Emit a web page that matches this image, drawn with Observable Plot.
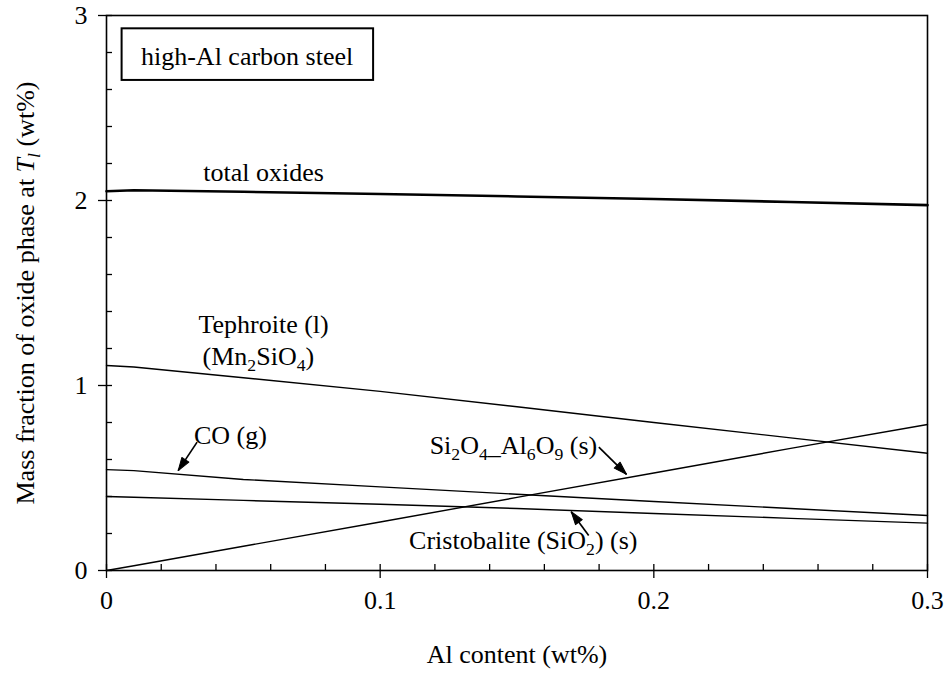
<!DOCTYPE html>
<html>
<head>
<meta charset="utf-8">
<script src="https://cdn.jsdelivr.net/npm/d3@7"></script>
<script src="https://cdn.jsdelivr.net/npm/@observablehq/plot@0.6"></script>
<style>
  html, body { margin: 0; padding: 0; background: #fff; }
  #chart { width: 944px; height: 676px; }
</style>
</head>
<body>
<div id="chart"></div>
<script>
// ---- data ----
const alContent = [0, 0.01, 0.05, 0.1, 0.15, 0.2, 0.25, 0.3];
const totalOxides = [2.050, 2.055, 2.047, 2.035, 2.022, 2.008, 1.992, 1.975];
const tephroite = [1.108, 1.100, 1.042, 0.968, 0.885, 0.800, 0.717, 0.634];
const coGas = [0.545, 0.540, 0.492, 0.452, 0.412, 0.373, 0.335, 0.297];
const cristobalite = [0.400, 0.396, 0.379, 0.358, 0.335, 0.308, 0.282, 0.256];
const mullite = [0.000, 0.026, 0.131, 0.262, 0.395, 0.527, 0.660, 0.789];

const xMajorTicks = [0, 0.1, 0.2, 0.3];
const xMinorTicks = [0.02, 0.04, 0.06, 0.08, 0.12, 0.14, 0.16, 0.18, 0.22, 0.24, 0.26, 0.28];
const yMajorTicks = [0, 1, 2, 3];
const yMinorTicks = [0.2, 0.4, 0.6, 0.8, 1.2, 1.4, 1.6, 1.8, 2.2, 2.4, 2.6, 2.8];
const xTickLabels = ["0", "0.1", "0.2", "0.3"];
const yTickLabels = ["0", "1", "2", "3"];

const xTitle = "Al content (wt%)";
const yTitle = "Mass fraction of oxide phase at [T{l}] (wt%)";

// annotations: label text and anchor (data coordinates)
const labels = [
  {text: "total oxides", x: 0.0574, y: 2.148},
  {text: "Tephroite (l)", x: 0.0574, y: 1.33},
  {text: "(Mn{2}SiO{4})", x: 0.0555, y: 1.155},
  {text: "CO (g)", x: 0.0453, y: 0.73},
  {text: "Si{2}O{4}_Al{6}O{9} (s)", x: 0.1487, y: 0.676},
  {text: "Cristobalite (SiO{2}) (s)", x: 0.1523, y: 0.162}
];
const arrows = [
  {x1: 0.0331, y1: 0.694, x2: 0.0262, y2: 0.540},
  {x1: 0.1799, y1: 0.667, x2: 0.1900, y2: 0.520},
  {x1: 0.1762, y1: 0.189, x2: 0.1698, y2: 0.318}
];
const boxLabel = "high-Al carbon steel";
const boxExtent = [{x1: 0.0057, x2: 0.0976, y1: 2.649, y2: 2.928}];
const boxTextPos = [{x: 0.0126, y: 2.778}];

// ---- build tables ----
const seriesDefs = [
  ["Tephroite", tephroite], ["CO", coGas], ["Cristobalite", cristobalite], ["Si2O4_Al6O9", mullite]
];
const thinRows = seriesDefs.flatMap(([name, vals]) => alContent.map((x, i) => ({series: name, x, y: vals[i]})));
const totalRows = alContent.map((x, i) => ({x, y: totalOxides[i]}));

// ---- geometry ----
const W = 944, H = 676;
const mL = 106, mR = 17, mT = 15, mB = 106;
const FS = 26;
const font = '"Liberation Serif", "Times New Roman", Times, serif';
const pxY = 3 / (H - mT - mB);          // data units per pixel (y)
const pxX = 0.3 / (W - mL - mR);        // data units per pixel (x)
const majOut = 8, majIn = 6, minIn = 6;

// arrow direction (degrees clockwise from up, in screen space)
const arrowAngle = d => {
  const dx = (d.x2 - d.x1) / pxX;
  const dyScreen = -(d.y2 - d.y1) / pxY;
  return Math.atan2(dx, -dyScreen) * 180 / Math.PI;
};
// filled arrowhead: tip at the end of the vector
const headShape = {
  draw(ctx, l) {
    ctx.moveTo(0, -l);
    ctx.lineTo(-4.2, 0);
    ctx.lineTo(4.2, 0);
    ctx.closePath();
  }
};

const chart = Plot.plot({
  width: W, height: H,
  marginLeft: mL, marginRight: mR, marginTop: mT, marginBottom: mB,
  style: {fontFamily: font, fontSize: FS + "px", background: "#fff", color: "#000", overflow: "visible"},
  x: {domain: [0, 0.3], axis: null},
  y: {domain: [0, 3], axis: null},
  marks: [
    // data lines
    Plot.line(thinRows, {x: "x", y: "y", z: "series", stroke: "#000", strokeWidth: 1.4}),
    Plot.line(totalRows, {x: "x", y: "y", stroke: "#000", strokeWidth: 2.6}),
    // frame
    Plot.frame({stroke: "#000", strokeWidth: 1.6}),
    // x ticks
    Plot.ruleX(xMajorTicks, {x: d => d, y1: -majOut * pxY, y2: majIn * pxY, stroke: "#000", strokeWidth: 1.3}),
    Plot.ruleX(xMinorTicks, {x: d => d, y1: 0, y2: minIn * pxY, stroke: "#000", strokeWidth: 1.3}),
    // y ticks
    Plot.ruleY(yMajorTicks, {y: d => d, x1: -majOut * pxX, x2: majIn * pxX, stroke: "#000", strokeWidth: 1.3}),
    Plot.ruleY(yMinorTicks, {y: d => d, x1: 0, x2: minIn * pxX, stroke: "#000", strokeWidth: 1.3}),
    // tick labels
    Plot.text(xMajorTicks, {x: d => d, frameAnchor: "bottom", dy: 38, text: (d, i) => xTickLabels[i], fontSize: FS, fill: "#000"}),
    Plot.text(yMajorTicks, {y: d => d, frameAnchor: "left", dx: -19, textAnchor: "end", text: (d, i) => yTickLabels[i], fontSize: FS, fill: "#000"}),
    // axis titles
    Plot.text([xTitle], {frameAnchor: "bottom", dy: 92, text: d => d, textAnchor: "middle", fontSize: FS, fill: "#000"}),
    Plot.text([yTitle], {frameAnchor: "left", dx: -81, rotate: -90, textAnchor: "middle", text: d => d, fontSize: FS, fill: "#000"}),
    // inset box label
    Plot.rect(boxExtent, {x1: "x1", x2: "x2", y1: "y1", y2: "y2", fill: "#fff", stroke: "#000", strokeWidth: 2}),
    Plot.text(boxTextPos, {x: "x", y: "y", text: () => boxLabel, textAnchor: "start", fontSize: FS, fill: "#000"}),
    // series labels and arrows
    Plot.text(labels, {x: "x", y: "y", text: "text", fontSize: FS, fill: "#000"}),
    Plot.link(arrows, {x1: "x1", y1: "y1", x2: "x2", y2: "y2", stroke: "#000", strokeWidth: 1.7}),
    Plot.vector(arrows, {x: "x2", y: "y2", rotate: arrowAngle, length: 13, anchor: "end", shape: headShape, fill: "#000", stroke: "#000", strokeWidth: 1})
  ]
});

// ---- rich text: {..} = subscript, [..] = italic ----
function richify(svg) {
  const NS = "http://www.w3.org/2000/svg";
  svg.querySelectorAll("text, tspan").forEach(el => {
    if (el.children.length) return;
    const s = el.textContent;
    if (!/[{}\[\]]/.test(s)) return;
    const segs = [];
    let sub = false, ital = false, buf = "";
    const flush = () => { if (buf) segs.push({t: buf, sub, ital}); buf = ""; };
    for (const ch of s) {
      if (ch === "{") { flush(); sub = true; }
      else if (ch === "}") { flush(); sub = false; }
      else if (ch === "[") { flush(); ital = true; }
      else if (ch === "]") { flush(); ital = false; }
      else buf += ch;
    }
    flush();
    el.textContent = "";
    const fs = parseFloat(el.closest("[font-size]")?.getAttribute("font-size")) || FS;
    const shift = fs * 0.24;
    let shifted = false;
    for (const g of segs) {
      const t = document.createElementNS(NS, "tspan");
      t.textContent = g.t;
      if (g.ital) t.setAttribute("font-style", "italic");
      if (g.sub && !shifted) { t.setAttribute("dy", shift); shifted = true; }
      else if (!g.sub && shifted) { t.setAttribute("dy", -shift); shifted = false; }
      if (g.sub) t.setAttribute("font-size", fs * 0.68);
      el.appendChild(t);
    }
  });
}
richify(chart);
document.getElementById("chart").appendChild(chart);
</script>
</body>
</html>
